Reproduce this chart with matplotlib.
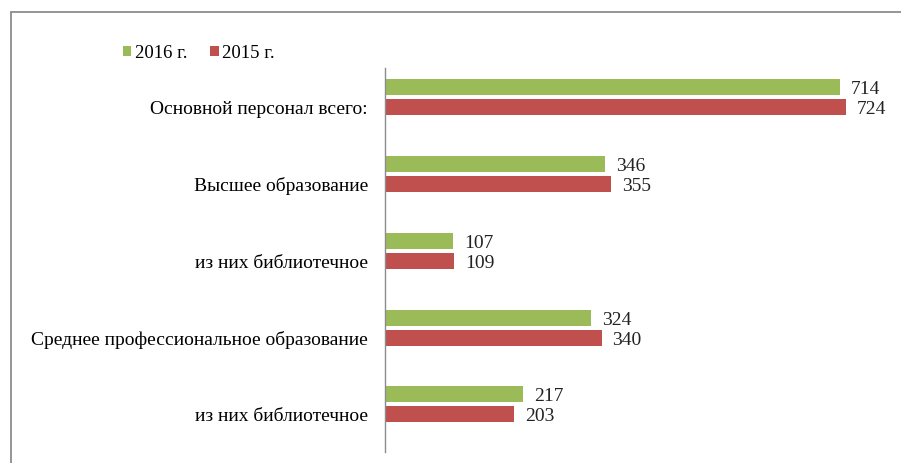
import matplotlib.pyplot as plt
import numpy as np
from matplotlib.patches import Rectangle

categories = [
    "Основной персонал всего:",
    "Высшее образование",
    "из них библиотечное",
    "Среднее профессиональное образование",
    "из них библиотечное",
]
values_2016 = [714, 346, 107, 324, 217]
values_2015 = [724, 355, 109, 340, 203]
series_names = ["2016 г.", "2015 г."]

green = "#9BBB59"
red = "#C0504D"

plt.rcParams["font.family"] = ["Liberation Serif", "DejaVu Serif"]

W, H = 901, 464
fig = plt.figure(figsize=(W / 100, H / 100), dpi=100)

# рамка диаграммы (обрезана справа и снизу)
fig.patches.append(
    Rectangle((11 / W, -0.1), 1.2, 1 - 13 / H + 0.1, transform=fig.transFigure,
              fill=False, edgecolor="#8c8c8c", linewidth=1.3)
)

left, right = 385, 895
top, bottom = 69, 453
ax = fig.add_axes([left / W, 1 - bottom / H, (right - left) / W, (bottom - top) / H])

y = np.arange(len(categories))
h = 0.207
off = 0.13
b1 = ax.barh(y - off, values_2016, height=h, color=green, label=series_names[0])
b2 = ax.barh(y + off, values_2015, height=h, color=red, label=series_names[1])

for bars in (b1, b2):
    for rect in bars:
        w = rect.get_width()
        ax.text(w + 17, rect.get_y() + rect.get_height() / 2 + 0.02, str(int(w)),
                va="center", ha="left", fontsize=14, color="#222222")

ax.set_xlim(0, (right - left) / 0.637)
ax.set_ylim(len(categories) - 1 + 0.62, -0.38)
ax.set_xticks([])
ax.set_yticks(y + 0.12)
ax.set_yticklabels(categories, fontsize=14)
ax.tick_params(axis="y", length=0, pad=12.2)
for s in ("top", "right", "bottom"):
    ax.spines[s].set_visible(False)
ax.spines["left"].set_color("#8c8c8c")
ax.spines["left"].set_linewidth(1.0)

fig.legend(handles=[b1, b2], labels=series_names, loc="center left",
           bbox_to_anchor=(123 / W, 1 - 54 / H), ncol=2, frameon=False,
           fontsize=13.5, handlelength=0.45, handleheight=0.45, handletextpad=0.2,
           columnspacing=1.2, borderpad=0, borderaxespad=0)

fig.savefig("out.png", dpi=100)
